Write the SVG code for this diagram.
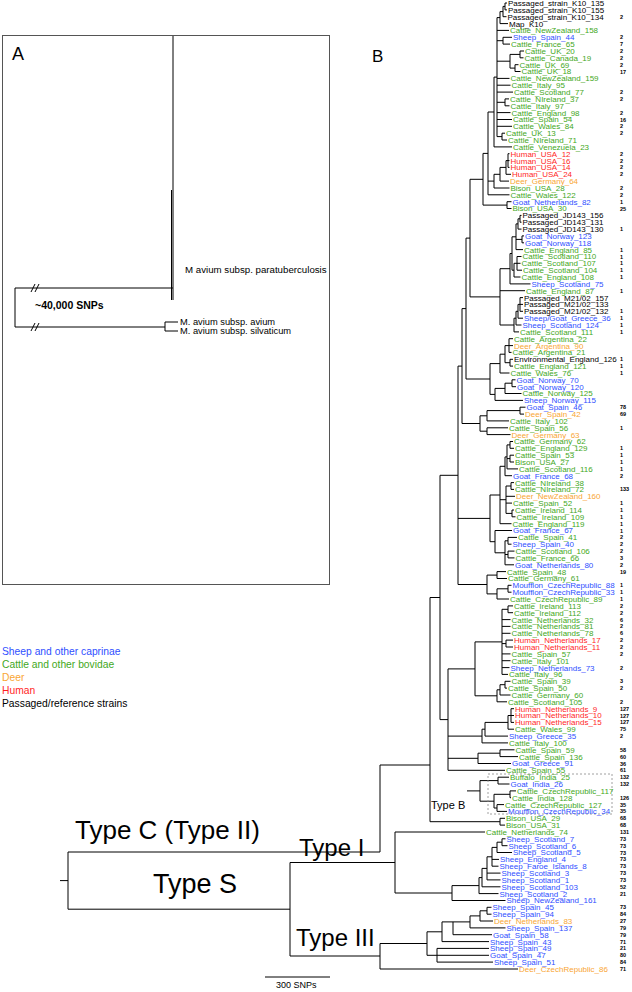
<svg xmlns="http://www.w3.org/2000/svg" width="632" height="992" viewBox="0 0 632 992">
<style>
.t{font-family:"Liberation Sans",Arial,sans-serif;font-size:8px}
.s{fill:#2f4fff}.c{fill:#3fa81c}.d{fill:#f9a634}.h{fill:#ff1f1f}.p{fill:#000}
.n{font-family:"Liberation Sans",Arial,sans-serif;font-size:5.5px;font-weight:bold;fill:#000}
.big{font-family:"Liberation Sans",Arial,sans-serif;fill:#000}
.lg{font-family:"Liberation Sans",Arial,sans-serif;font-size:10.3px}
.br{fill:none;stroke:#000;stroke-width:1}
</style>
<rect width="632" height="992" fill="#fff"/>
<g id="panelA">
<rect x="2.5" y="35.5" width="327" height="549" fill="none" stroke="#555" stroke-width="1"/>
<text class="big" x="12" y="60" style="font-size:18px">A</text>
<path class="br" d="M173 36V300M171.5 190V300M15 288V327M15 288H173M15 327H165M165 322V331M165 322H178M165 331H178"/>
<path class="br" d="M31 292L35 284M35 292L39 284M31 331L35 323M35 331L39 323"/>
<text class="big" x="185" y="273" style="font-size:9.7px">M avium subsp. paratuberculosis</text>
<text class="big" x="35" y="309" style="font-size:10.5px;font-weight:bold">~40,000 SNPs</text>
<text class="big" x="180" y="325" style="font-size:9.3px">M. avium subsp. avium</text>
<text class="big" x="180" y="334" style="font-size:9.3px">M. avium subsp. silvaticum</text>
</g>
<g id="legend">
<text class="lg s" x="2" y="655">Sheep and other caprinae</text>
<text class="lg c" x="2" y="668">Cattle and other bovidae</text>
<text class="lg d" x="2" y="681">Deer</text>
<text class="lg h" x="2" y="694">Human</text>
<text class="lg p" x="2" y="707">Passaged/reference strains</text>
</g>
<text class="big" x="372" y="62" style="font-size:17px">B</text>
<g id="connectors">
<path class="br" d="M505 3V9.9M505 3H507M505 9.9H507M503 6.4V16.7M503 6.4H505M503 16.7H506.5M500 11.6V23.6M500 11.6H503M500 23.6H508
M503 37.3V44.1M503 37.3H512M503 44.1H510M520 51V57.8M520 51H524M520 57.8H523.5M515 64.7V71.5M515 64.7H518.5M515 71.5H520.5M510 54.4V68.1M510 54.4H520M510 68.1H515
M505 98.9V105.8M505 98.9H509M505 105.8H509.5M502 133.2V140M502 133.2H505M502 140H507
M497 17.6V136.6M497 17.6H500M497 30.4H509M497 40.7H503M497 61.2H510M497 78.4H509.5M497 85.2H510.5M497 92.1H513M497 102.3H505M497 112.6H510.5M497 119.5H512M497 126.3H512M497 136.6H502
M494 77.1V146.9M494 77.1H497M494 146.9H512
M508 153.7V167.4M508 153.7H509.5M508 160.6H509.5M508 167.4H509.5M506 160.6V174.3M506 160.6H508M506 174.3H511M500 167.4V181.1M500 167.4H506M500 181.1H509M494 174.3V188M494 174.3H500M494 188H509.5
M488 112V194.8M488 112H494M488 181.1H494M488 194.8H509.5M507 201.7V208.5M507 201.7H511.5M507 208.5H511.5M483 153.4V205.1M483 153.4H488M483 205.1H507
M520 215.4V222.2M520 215.4H521.5M520 222.2H521.5M518 218.8V229.1M518 218.8H520M518 229.1H521.5M522 235.9V242.8M522 235.9H524M522 242.8H524M516 223.9V249.6M516 223.9H518M516 239.4H522M516 249.6H523
M517 256.5V270.2M517 256.5H521.5M517 263.3H520.5M517 270.2H522M514 263.3V277M514 263.3H517M514 277H520.5M512 236.8V270.2M512 236.8H516M512 270.2H514M510 253.5V283.9M510 253.5H512M510 283.9H530.5
M520 297.6V311.3M520 297.6H523M520 304.4H523M520 311.3H523M518 304.4V318.2M518 304.4H520M518 318.2H523M516 311.3V325M516 311.3H518M516 325H521.5M514 318.2V331.9M514 318.2H516M514 331.9H519M500 268.7V325M500 268.7H510M500 290.7H525M500 325H514
M509 338.7V352.4M509 338.7H513M509 345.6H513M509 352.4H511.5M510 359.3V366.1M510 359.3H513M510 366.1H513M505 345.6V362.7M505 345.6H509M505 362.7H510M500 354.2V373M500 354.2H505M500 373H509.5
M512 379.8V386.7M512 379.8H515.5M512 386.7H516M505 383.2V393.5M505 383.2H512M505 393.5H521.5M495 388.4V400.4M495 388.4H505M495 400.4H523M490 363.6V394.4M490 363.6H500M490 394.4H495
M520 407.2V414.1M520 407.2H525.5M520 414.1H524M487 410.6V420.9M487 410.6H520M487 420.9H509M487 427.8V434.6M487 427.8H508M487 434.6H510.5M480 415.8V431.2M480 415.8H487M480 431.2H487
M510 441.5V448.3M510 441.5H513M510 448.3H514M510 455.2V462M510 455.2H514M510 462H514M507 444.9V468.9M507 444.9H510M507 458.6H510M507 468.9H518M505 456.9V475.7M505 456.9H507M505 475.7H512
M511 482.6V489.4M511 482.6H514M511 489.4H514M512 510V516.8M512 510H514M512 516.8H515.5M506 486V513.4M506 486H511M506 496.3H515M506 503.1H512M506 513.4H512M500 466.3V523.7M500 466.3H505M500 499.7H506M500 523.7H511.5
M508 537.4V544.2M508 537.4H517M508 544.2H511.5M508 551.1V557.9M508 551.1H514.5M508 557.9H514.5M505 540.8V564.8M505 540.8H508M505 554.5H508M505 564.8H514M495 530.5V552.8M495 530.5H512M495 552.8H505M490 495V541.7M490 495H500M490 541.7H495
M497 571.6V578.5M497 571.6H506M497 578.5H507M508 585.3V592.2M508 585.3H511.5M508 592.2H511.5M497 588.8V599M497 588.8H508M497 599H509M487 575.1V593.9M487 575.1H497M487 593.9H497
M508 605.9V612.7M508 605.9H513M508 612.7H513M506 640.1V647M506 640.1H513M506 647H513M502 609.3V674.4M502 609.3H508M502 619.6H510.5M502 626.4H510.5M502 633.3H510.5M502 643.6H506M502 653.9H510.5M502 660.7H510.5M502 667.6H509.5M502 674.4H508
M505 681.3V688.1M505 681.3H510.5M505 688.1H507M500 684.7V695M500 684.7H505M500 695H510.5M497 689.8V701.8M497 689.8H500M497 701.8H507
M511 708.7V722.4M511 708.7H514M511 715.5H514M511 722.4H514M508 715.5V729.2M508 715.5H511M508 729.2H514M485 722.4V736.1M485 722.4H508M485 736.1H508M482 729.2V742.9M482 729.2H485M482 742.9H508
M500 749.8V756.6M500 749.8H514.5M500 756.6H518M478 753.2V763.5M478 753.2H500M478 763.5H511
M498 777.2V784M498 777.2H509M498 784H509.5M510 790.9V797.7M510 790.9H516M510 797.7H511M497 804.6V811.4M497 804.6H504M497 811.4H507M494 794.3V808M494 794.3H510M494 808H497M480 780.6V801.2M480 780.6H498M480 801.2H494M467 790.9H480
M500 818.3V825.1M500 818.3H505M500 825.1H505
M470 179.3V296.9M470 179.3H483M470 296.9H500M466 238.1V379M466 238.1H470M466 379H490M462 308.6V423.5M462 308.6H466M462 423.5H480M458 366.1V584.5M458 366.1H462M458 518.4H490M458 584.5H487
M475 641.9V695.8M475 641.9H502M475 695.8H497M448 668.9V770.3M448 668.9H475M448 736.1H482M448 758.3H478M448 770.3H505M440 475.3V719.6M440 475.3H458M440 719.6H448
M430 597.5V821.7M430 597.5H440M430 821.7H500
M68 852H380M380 765V852M380 765H430
M68 852V909.2M60 880.6H68M68 909.2H290
M290 862.5V956M290 862.5H395M395 832V893M395 832H485M395 893H452M290 956H380
M502 838.8V845.7M502 838.8H505.5M502 845.7H507.5M497 842.2V852.5M497 842.2H502M497 852.5H512M492 847.4V866.2M492 847.4H497M492 859.4H499M492 866.2H498.5M487 856.8V879.9M487 856.8H492M487 873.1H500.5M487 879.9H500.5M482 868.4V886.8M482 868.4H487M482 886.8H500.5M479 877.6V893.6M479 877.6H482M479 893.6H498.5M452 885.6V900.5M452 885.6H479M452 900.5H505.5
M487 907.3V914.2M487 907.3H491.5M487 914.2H491.5M480 910.8V921M480 910.8H487M480 921H493M470 915.9V927.9M470 915.9H480M470 927.9H505.5M453 921.9V934.7M453 921.9H470M453 934.7H492
M442 921.9V941.6M442 921.9H453M442 941.6H489M437 948.4V962.1M437 948.4H489M437 955.3H489M437 962.1H493M427 931.8V955.3M427 931.8H442M427 955.3H437
M380 943.5V969M380 943.5H427M380 969H518"/>
<rect x="488" y="774" width="124" height="40" fill="none" stroke="#888" stroke-width="0.8" stroke-dasharray="2,2"/>
<path class="br" d="M265 977H330"/>
</g>
<g id="typelabels">
<text class="big" x="75" y="839" style="font-size:26px">Type C (Type II)</text>
<text class="big" x="153" y="893" style="font-size:27px">Type S</text>
<text class="big" x="299" y="856" style="font-size:24px">Type I</text>
<text class="big" x="296" y="946" style="font-size:24px">Type III</text>
<text class="big" x="431" y="809" style="font-size:11px">Type B</text>
<text class="big" x="276" y="988" style="font-size:9px">300 SNPs</text>
</g>
<g id="leaves">
<g id="L1"><text class="t p" x="508" y="5.9">Passaged_strain_K10_135</text></g>
<g id="L2"><text class="t p" x="508" y="12.8">Passaged_strain_K10_155</text></g>
<g id="L3"><text class="t p" x="507.5" y="19.6">Passaged_strain_K10_134</text><text class="n" x="620" y="18.7">2</text></g>
<g id="L4"><text class="t p" x="509" y="26.5">Map_K10</text></g>
<g id="L5"><text class="t c" x="510" y="33.3">Cattle_NewZealand_158</text></g>
<g id="L6"><text class="t s" x="513" y="40.2">Sheep_Spain_44</text><text class="n" x="620" y="39.3">2</text></g>
<g id="L7"><text class="t c" x="511" y="47">Cattle_France_65</text><text class="n" x="620" y="46.1">7</text></g>
<g id="L8"><text class="t c" x="525" y="53.9">Cattle_UK_20</text><text class="n" x="620" y="53">2</text></g>
<g id="L9"><text class="t c" x="524.5" y="60.7">Cattle_Canada_19</text><text class="n" x="620" y="59.8">2</text></g>
<g id="L10"><text class="t c" x="519.5" y="67.6">Cattle_UK_69</text><text class="n" x="620" y="66.7">2</text></g>
<g id="L11"><text class="t c" x="521.5" y="74.4">Cattle_UK_18</text><text class="n" x="620" y="73.5">17</text></g>
<g id="L12"><text class="t c" x="510.5" y="81.3">Cattle_NewZealand_159</text></g>
<g id="L13"><text class="t c" x="511.5" y="88.1">Cattle_Italy_95</text></g>
<g id="L14"><text class="t c" x="514" y="95">Cattle_Scotland_77</text><text class="n" x="620" y="94.1">2</text></g>
<g id="L15"><text class="t c" x="510" y="101.8">Cattle_NIreland_37</text><text class="n" x="620" y="100.9">2</text></g>
<g id="L16"><text class="t c" x="510.5" y="108.7">Cattle_Italy_97</text></g>
<g id="L17"><text class="t c" x="511.5" y="115.5">Cattle_England_98</text><text class="n" x="620" y="114.6">2</text></g>
<g id="L18"><text class="t c" x="513" y="122.4">Cattle_Spain_54</text><text class="n" x="620" y="121.5">16</text></g>
<g id="L19"><text class="t c" x="513" y="129.2">Cattle_Wales_84</text><text class="n" x="620" y="128.3">2</text></g>
<g id="L20"><text class="t c" x="506" y="136.1">Cattle_UK_13</text><text class="n" x="620" y="135.2">2</text></g>
<g id="L21"><text class="t c" x="508" y="142.9">Cattle_NIreland_71</text></g>
<g id="L22"><text class="t c" x="513" y="149.8">Cattle_Venezuela_23</text></g>
<g id="L23"><text class="t h" x="510.5" y="156.6">Human_USA_12</text><text class="n" x="620" y="155.7">2</text></g>
<g id="L24"><text class="t h" x="510.5" y="163.5">Human_USA_16</text><text class="n" x="620" y="162.6">2</text></g>
<g id="L25"><text class="t h" x="510.5" y="170.3">Human_USA_14</text><text class="n" x="620" y="169.4">2</text></g>
<g id="L26"><text class="t h" x="512" y="177.2">Human_USA_24</text><text class="n" x="620" y="176.3">2</text></g>
<g id="L27"><text class="t d" x="510" y="184">Deer_Germany_64</text></g>
<g id="L28"><text class="t c" x="510.5" y="190.9">Bison_USA_28</text><text class="n" x="620" y="190">2</text></g>
<g id="L29"><text class="t c" x="510.5" y="197.7">Cattle_Wales_122</text><text class="n" x="620" y="196.8">2</text></g>
<g id="L30"><text class="t s" x="512.5" y="204.6">Goat_Netherlands_82</text><text class="n" x="620" y="203.7">1</text></g>
<g id="L31"><text class="t c" x="512.5" y="211.4">Bison_USA_30</text><text class="n" x="620" y="210.5">25</text></g>
<g id="L32"><text class="t p" x="522.5" y="218.3">Passaged_JD143_156</text></g>
<g id="L33"><text class="t p" x="522.5" y="225.1">Passaged_JD143_131</text></g>
<g id="L34"><text class="t p" x="522.5" y="232">Passaged_JD143_130</text><text class="n" x="620" y="231.1">1</text></g>
<g id="L35"><text class="t s" x="525" y="238.8">Goat_Norway_123</text></g>
<g id="L36"><text class="t s" x="525" y="245.7">Goat_Norway_118</text></g>
<g id="L37"><text class="t c" x="524" y="252.5">Cattle_England_85</text><text class="n" x="620" y="251.6">1</text></g>
<g id="L38"><text class="t c" x="522.5" y="259.4">Cattle_Scotland_110</text><text class="n" x="620" y="258.5">1</text></g>
<g id="L39"><text class="t c" x="521.5" y="266.2">Cattle_Scotland_107</text><text class="n" x="620" y="265.3">1</text></g>
<g id="L40"><text class="t c" x="523" y="273.1">Cattle_Scotland_104</text><text class="n" x="620" y="272.2">1</text></g>
<g id="L41"><text class="t c" x="521.5" y="279.9">Cattle_England_108</text><text class="n" x="620" y="279">1</text></g>
<g id="L42"><text class="t s" x="531.5" y="286.8">Sheep_Scotland_75</text></g>
<g id="L43"><text class="t c" x="526" y="293.6">Cattle_England_87</text><text class="n" x="620" y="292.7">1</text></g>
<g id="L44"><text class="t p" x="524" y="300.5">Passaged_M21/02_157</text></g>
<g id="L45"><text class="t p" x="524" y="307.3">Passaged_M21/02_133</text></g>
<g id="L46"><text class="t p" x="524" y="314.2">Passaged_M21/02_132</text><text class="n" x="620" y="313.3">1</text></g>
<g id="L47"><text class="t s" x="524" y="321.1">Sheep/Goat_Greece_36</text><text class="n" x="620" y="320.2">1</text></g>
<g id="L48"><text class="t s" x="522.5" y="327.9">Sheep_Scotland_124</text><text class="n" x="620" y="327">1</text></g>
<g id="L49"><text class="t c" x="520" y="334.8">Cattle_Scotland_111</text><text class="n" x="620" y="333.9">1</text></g>
<g id="L50"><text class="t c" x="514" y="341.6">Cattle_Argentina_22</text></g>
<g id="L51"><text class="t d" x="514" y="348.5">Deer_Argentina_90</text></g>
<g id="L52"><text class="t c" x="512.5" y="355.3">Cattle_Argentina_21</text></g>
<g id="L53"><text class="t p" x="514" y="362.2">Environmental_England_126</text><text class="n" x="620" y="361.3">1</text></g>
<g id="L54"><text class="t c" x="514" y="369">Cattle_England_121</text><text class="n" x="620" y="368.1">1</text></g>
<g id="L55"><text class="t c" x="510.5" y="375.9">Cattle_Wales_76</text><text class="n" x="620" y="375">1</text></g>
<g id="L56"><text class="t s" x="516.5" y="382.7">Goat_Norway_70</text></g>
<g id="L57"><text class="t s" x="517" y="389.6">Goat_Norway_120</text></g>
<g id="L58"><text class="t c" x="522.5" y="396.4">Cattle_Norway_125</text></g>
<g id="L59"><text class="t s" x="524" y="403.3">Sheep_Norway_115</text></g>
<g id="L60"><text class="t s" x="526.5" y="410.1">Goat_Spain_46</text><text class="n" x="620" y="409.2">78</text></g>
<g id="L61"><text class="t d" x="525" y="417">Deer_Spain_42</text><text class="n" x="620" y="416.1">69</text></g>
<g id="L62"><text class="t c" x="510" y="423.8">Cattle_Italy_102</text></g>
<g id="L63"><text class="t c" x="509" y="430.7">Cattle_Spain_56</text><text class="n" x="620" y="429.8">1</text></g>
<g id="L64"><text class="t d" x="511.5" y="437.5">Deer_Germany_63</text></g>
<g id="L65"><text class="t c" x="514" y="444.4">Cattle_Germany_62</text></g>
<g id="L66"><text class="t c" x="515" y="451.2">Cattle_England_129</text><text class="n" x="620" y="450.3">1</text></g>
<g id="L67"><text class="t c" x="515" y="458.1">Cattle_Spain_53</text><text class="n" x="620" y="457.2">1</text></g>
<g id="L68"><text class="t c" x="515" y="464.9">Bison_USA_27</text><text class="n" x="620" y="464">1</text></g>
<g id="L69"><text class="t c" x="519" y="471.8">Cattle_Scotland_116</text><text class="n" x="620" y="470.9">1</text></g>
<g id="L70"><text class="t s" x="513" y="478.6">Goat_France_68</text><text class="n" x="620" y="477.7">2</text></g>
<g id="L71"><text class="t c" x="515" y="485.5">Cattle_NIreland_38</text></g>
<g id="L72"><text class="t c" x="515" y="492.3">Cattle_NIreland_72</text><text class="n" x="620" y="491.4">133</text></g>
<g id="L73"><text class="t d" x="516" y="499.2">Deer_NewZealand_160</text></g>
<g id="L74"><text class="t c" x="513" y="506">Cattle_Spain_52</text><text class="n" x="620" y="505.1">1</text></g>
<g id="L75"><text class="t c" x="515" y="512.9">Cattle_Ireland_114</text><text class="n" x="620" y="512">1</text></g>
<g id="L76"><text class="t c" x="516.5" y="519.7">Cattle_Ireland_109</text><text class="n" x="620" y="518.8">1</text></g>
<g id="L77"><text class="t c" x="512.5" y="526.6">Cattle_England_119</text><text class="n" x="620" y="525.7">1</text></g>
<g id="L78"><text class="t s" x="513" y="533.4">Goat_France_67</text><text class="n" x="620" y="532.5">1</text></g>
<g id="L79"><text class="t c" x="518" y="540.3">Cattle_Spain_41</text><text class="n" x="620" y="539.4">2</text></g>
<g id="L80"><text class="t s" x="512.5" y="547.1">Sheep_Spain_40</text><text class="n" x="620" y="546.2">2</text></g>
<g id="L81"><text class="t c" x="515.5" y="554">Cattle_Scotland_106</text><text class="n" x="620" y="553.1">2</text></g>
<g id="L82"><text class="t c" x="515.5" y="560.8">Cattle_France_66</text><text class="n" x="620" y="559.9">3</text></g>
<g id="L83"><text class="t s" x="515" y="567.7">Goat_Netherlands_80</text><text class="n" x="620" y="566.8">2</text></g>
<g id="L84"><text class="t c" x="507" y="574.5">Cattle_Spain_48</text><text class="n" x="620" y="573.6">19</text></g>
<g id="L85"><text class="t c" x="508" y="581.4">Cattle_Germany_61</text></g>
<g id="L86"><text class="t s" x="512.5" y="588.2">Moufflon_CzechRepublic_88</text><text class="n" x="620" y="587.3">1</text></g>
<g id="L87"><text class="t s" x="512.5" y="595.1">Moufflon_CzechRepublic_33</text><text class="n" x="620" y="594.2">1</text></g>
<g id="L88"><text class="t c" x="510" y="601.9">Cattle_CzechRepublic_89</text><text class="n" x="620" y="601">1</text></g>
<g id="L89"><text class="t c" x="514" y="608.8">Cattle_Ireland_113</text><text class="n" x="620" y="607.9">2</text></g>
<g id="L90"><text class="t c" x="514" y="615.6">Cattle_Ireland_112</text><text class="n" x="620" y="614.7">2</text></g>
<g id="L91"><text class="t c" x="511.5" y="622.5">Cattle_Netherlands_32</text><text class="n" x="620" y="621.6">6</text></g>
<g id="L92"><text class="t c" x="511.5" y="629.3">Cattle_Netherlands_81</text><text class="n" x="620" y="628.4">2</text></g>
<g id="L93"><text class="t c" x="511.5" y="636.2">Cattle_Netherlands_78</text><text class="n" x="620" y="635.3">6</text></g>
<g id="L94"><text class="t h" x="514" y="643">Human_Netherlands_17</text><text class="n" x="620" y="642.1">2</text></g>
<g id="L95"><text class="t h" x="514" y="649.9">Human_Netherlands_11</text><text class="n" x="620" y="649">2</text></g>
<g id="L96"><text class="t c" x="511.5" y="656.8">Cattle_Spain_57</text><text class="n" x="620" y="655.9">2</text></g>
<g id="L97"><text class="t c" x="511.5" y="663.6">Cattle_Italy_101</text></g>
<g id="L98"><text class="t s" x="510.5" y="670.5">Sheep_Netherlands_73</text><text class="n" x="620" y="669.6">2</text></g>
<g id="L99"><text class="t c" x="509" y="677.3">Cattle_Italy_96</text></g>
<g id="L100"><text class="t c" x="511.5" y="684.2">Cattle_Spain_39</text><text class="n" x="620" y="683.3">3</text></g>
<g id="L101"><text class="t c" x="508" y="691">Cattle_Spain_50</text><text class="n" x="620" y="690.1">2</text></g>
<g id="L102"><text class="t c" x="511.5" y="697.9">Cattle_Germany_60</text></g>
<g id="L103"><text class="t c" x="508" y="704.7">Cattle_Scotland_105</text><text class="n" x="620" y="703.8">2</text></g>
<g id="L104"><text class="t h" x="515" y="711.6">Human_Netherlands_9</text><text class="n" x="620" y="710.7">127</text></g>
<g id="L105"><text class="t h" x="515" y="718.4">Human_Netherlands_10</text><text class="n" x="620" y="717.5">127</text></g>
<g id="L106"><text class="t h" x="515" y="725.3">Human_Netherlands_15</text><text class="n" x="620" y="724.4">127</text></g>
<g id="L107"><text class="t c" x="515" y="732.1">Cattle_Wales_99</text><text class="n" x="620" y="731.2">75</text></g>
<g id="L108"><text class="t s" x="509" y="739">Sheep_Greece_35</text><text class="n" x="620" y="738.1">2</text></g>
<g id="L109"><text class="t c" x="509" y="745.8">Cattle_Italy_100</text></g>
<g id="L110"><text class="t c" x="515.5" y="752.7">Cattle_Spain_59</text><text class="n" x="620" y="751.8">58</text></g>
<g id="L111"><text class="t c" x="519" y="759.5">Cattle_Spain_136</text><text class="n" x="620" y="758.6">60</text></g>
<g id="L112"><text class="t s" x="512" y="766.4">Goat_Greece_91</text><text class="n" x="620" y="765.5">36</text></g>
<g id="L113"><text class="t c" x="506" y="773.2">Cattle_Spain_55</text><text class="n" x="620" y="772.3">61</text></g>
<g id="L114"><text class="t c" x="510" y="780.1">Buffalo_India_25</text><text class="n" x="620" y="779.2">132</text></g>
<g id="L115"><text class="t s" x="510.5" y="786.9">Goat_India_26</text><text class="n" x="620" y="786">132</text></g>
<g id="L116"><text class="t c" x="517" y="793.8">Cattle_CzechRepublic_117</text></g>
<g id="L117"><text class="t c" x="512" y="800.6">Cattle_India_128</text><text class="n" x="620" y="799.7">126</text></g>
<g id="L118"><text class="t c" x="505" y="807.5">Cattle_CzechRepublic_127</text><text class="n" x="620" y="806.6">35</text></g>
<g id="L119"><text class="t s" x="508" y="814.3">Moufflon_CzechRepublic_34</text><text class="n" x="620" y="813.4">35</text></g>
<g id="L120"><text class="t c" x="506" y="821.2">Bison_USA_29</text><text class="n" x="620" y="820.3">68</text></g>
<g id="L121"><text class="t c" x="506" y="828">Bison_USA_31</text><text class="n" x="620" y="827.1">68</text></g>
<g id="L122"><text class="t c" x="486" y="834.9">Cattle_Netherlands_74</text><text class="n" x="620" y="834">131</text></g>
<g id="L123"><text class="t s" x="506.5" y="841.7">Sheep_Scotland_7</text><text class="n" x="620" y="840.8">73</text></g>
<g id="L124"><text class="t s" x="508.5" y="848.6">Sheep_Scotland_6</text><text class="n" x="620" y="847.7">73</text></g>
<g id="L125"><text class="t s" x="513" y="855.4">Sheep_Scotland_5</text><text class="n" x="620" y="854.5">73</text></g>
<g id="L126"><text class="t s" x="500" y="862.3">Sheep_England_4</text><text class="n" x="620" y="861.4">73</text></g>
<g id="L127"><text class="t s" x="499.5" y="869.1">Sheep_Faroe_Islands_8</text><text class="n" x="620" y="868.2">73</text></g>
<g id="L128"><text class="t s" x="501.5" y="876">Sheep_Scotland_3</text><text class="n" x="620" y="875.1">73</text></g>
<g id="L129"><text class="t s" x="501.5" y="882.8">Sheep_Scotland_1</text><text class="n" x="620" y="881.9">73</text></g>
<g id="L130"><text class="t s" x="501.5" y="889.7">Sheep_Scotland_103</text><text class="n" x="620" y="888.8">52</text></g>
<g id="L131"><text class="t s" x="499.5" y="896.5">Sheep_Scotland_2</text><text class="n" x="620" y="895.6">21</text></g>
<g id="L132"><text class="t s" x="506.5" y="903.4">Sheep_NewZealand_161</text></g>
<g id="L133"><text class="t s" x="492.5" y="910.2">Sheep_Spain_45</text><text class="n" x="620" y="909.3">73</text></g>
<g id="L134"><text class="t s" x="492.5" y="917.1">Sheep_Spain_94</text><text class="n" x="620" y="916.2">84</text></g>
<g id="L135"><text class="t d" x="494" y="923.9">Deer_Netherlands_83</text><text class="n" x="620" y="923">27</text></g>
<g id="L136"><text class="t s" x="506.5" y="930.8">Sheep_Spain_137</text><text class="n" x="620" y="929.9">79</text></g>
<g id="L137"><text class="t s" x="493" y="937.6">Goat_Spain_58</text><text class="n" x="620" y="936.7">79</text></g>
<g id="L138"><text class="t s" x="490" y="944.5">Sheep_Spain_43</text><text class="n" x="620" y="943.6">71</text></g>
<g id="L139"><text class="t s" x="490" y="951.3">Sheep_Spain_49</text><text class="n" x="620" y="950.4">21</text></g>
<g id="L140"><text class="t s" x="490" y="958.2">Goat_Spain_47</text><text class="n" x="620" y="957.3">80</text></g>
<g id="L141"><text class="t s" x="494" y="965">Sheep_Spain_51</text><text class="n" x="620" y="964.1">84</text></g>
<g id="L142"><text class="t d" x="519" y="971.9">Deer_CzechRepublic_86</text><text class="n" x="620" y="971">71</text></g>
</g>
</svg>
